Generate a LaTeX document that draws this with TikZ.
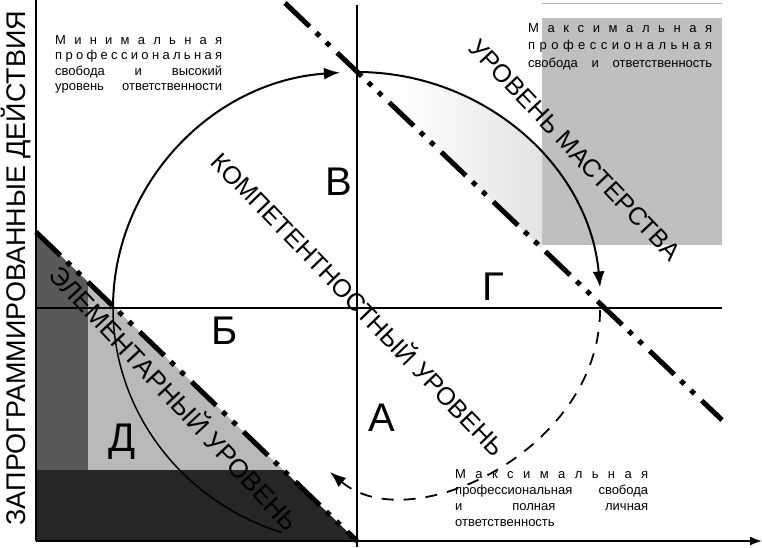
\documentclass[tikz,border=0pt]{standalone}
\usepackage{fontspec}
\setmainfont{Liberation Sans}
\usetikzlibrary{arrows.meta}
\begin{document}
\begin{tikzpicture}[x=1pt,y=1pt,
  axisline/.style={line width=1.8pt},
  crossline/.style={line width=1.4pt},
  levelline/.style={line width=5pt, dash pattern=on 34pt off 9pt on 5pt off 9pt on 5pt off 10pt},
  arcline/.style={line width=2pt, -{Latex[length=16pt,width=12pt]}},
  dasharc/.style={line width=1.8pt, dash pattern=on 12pt off 10pt, -{Latex[length=16pt,width=12pt]}},
  quadlabel/.style={font=\fontsize{40}{40}\selectfont, inner sep=0pt},
  leveltext/.style={font=\fontsize{25}{25}\selectfont, inner sep=0pt},
  note/.style={font=\fontsize{13}{15.5}\selectfont, align=left, inner sep=0pt, anchor=north west}
]
\useasboundingbox (0,0) rectangle (762,547);
% key points
\coordinate (C) at (357,239);
\coordinate (axO) at (36,6);
\coordinate (axTop) at (36,547);
\coordinate (axRight) at (762,6);
\coordinate (vTop) at (357,542);
\coordinate (vBot) at (357,0);
\coordinate (hL) at (36,239);
\coordinate (hR) at (722,239);
\coordinate (mA) at (285,544);
\coordinate (mB) at (722,127);
\coordinate (tA) at (36,315);
\coordinate (tB) at (357,6);
\coordinate (arcL) at (113,239);
\coordinate (arcTop) at (357,475);
\coordinate (dStart) at (600,237);
\coordinate (dEnd) at (330,75);

% grey rectangle top right
\fill[gray!50] (542,529) rectangle (722,302);
\draw[gray!60, line width=0.8pt] (542,544) -- (722,544);
% light stipple between arc and mastery line
\begin{scope}
  \clip (arcTop) arc[start angle=90, end angle=5, x radius=244, y radius=236] -- (600,243) -- cycle;
  \shade[left color=white, right color=gray!22] (400,230) rectangle (542,480);
\end{scope}

% elementary triangle
\fill[gray!55] (tA) -- (axO) -- (tB) -- cycle;
\begin{scope}
  \clip (tA) -- (axO) -- (tB) -- cycle;
  \fill[black!65] (36,6) rectangle (88,315);
  \fill[black!85] (36,6) rectangle (357,77);
  \draw[line width=1.5pt] (arcL) arc[start angle=180, end angle=252, x radius=244, y radius=236];
\end{scope}

% axes
\draw[axisline] (axTop) -- (axO);
\draw[axisline, -{Latex[length=12pt,width=9pt]}] (axO) -- (axRight);
% cross
\draw[crossline] (vTop) -- (vBot);
\draw[crossline] (hL) -- (hR);

% level lines
\draw[levelline] (mA) -- (mB);
\draw[levelline] (tA) -- (tB);

% arcs
\draw[arcline] (arcL) arc[start angle=180, end angle=94, x radius=244, y radius=236];
\draw[arcline] (arcTop) arc[start angle=90, end angle=5, x radius=244, y radius=236];
\draw[dasharc] (dStart) .. controls (600,97) and (410,7) .. (dEnd);

% quadrant labels
\node[quadlabel] (qV) at (339,365) {В};
\node[quadlabel] (qB) at (225,216) {Б};
\node[quadlabel] (qG) at (493,260) {Г};
\node[quadlabel] (qA) at (382,129) {А};
\node[quadlabel] (qD) at (122,105) {Д};

% level texts
\node[leveltext, rotate=-46] (tComp) at (360,244) {КОМПЕТЕНТНОСТНЫЙ УРОВЕНЬ};
\node[leveltext, rotate=-46.5] (tMast) at (575,397) {УРОВЕНЬ МАСТЕРСТВА};
\node[leveltext, font=\fontsize{26}{26}\selectfont, rotate=-47] (tElem) at (176,150) {ЭЛЕМЕНТАРНЫЙ УРОВЕНЬ};

% vertical axis label
\node[rotate=90, font=\fontsize{27}{27}\selectfont, inner sep=0pt] (ylab) at (16,279) {ЗАПРОГРАММИРОВАННЫЕ ДЕЙСТВИЯ};

% notes
\node[note] (nTL) at (55,512) {\makebox[167pt][s]{М и н и м а л ь н а я}\\
  \makebox[167pt][s]{п р о ф е с с и о н а л ь н а я}\\
  \makebox[167pt][s]{свобода и высокий}\\
  \makebox[167pt][s]{уровень ответственности}};
\node[note, font=\fontsize{13}{17.5}\selectfont] (nTR) at (528,524) {\makebox[184pt][s]{М а к с и м а л ь н а я}\\
  \makebox[184pt][s]{п р о ф е с с и о н а л ь н а я}\\
  \makebox[184pt][s]{свобода и ответственность}};
\node[note, font=\fontsize{13}{16}\selectfont] (nB) at (455,78) {\makebox[193pt][s]{М а к с и м а л ь н а я}\\
  \makebox[193pt][s]{профессиональная свобода}\\
  \makebox[193pt][s]{и полная личная}\\
  ответственность};
\end{tikzpicture}
\end{document}
